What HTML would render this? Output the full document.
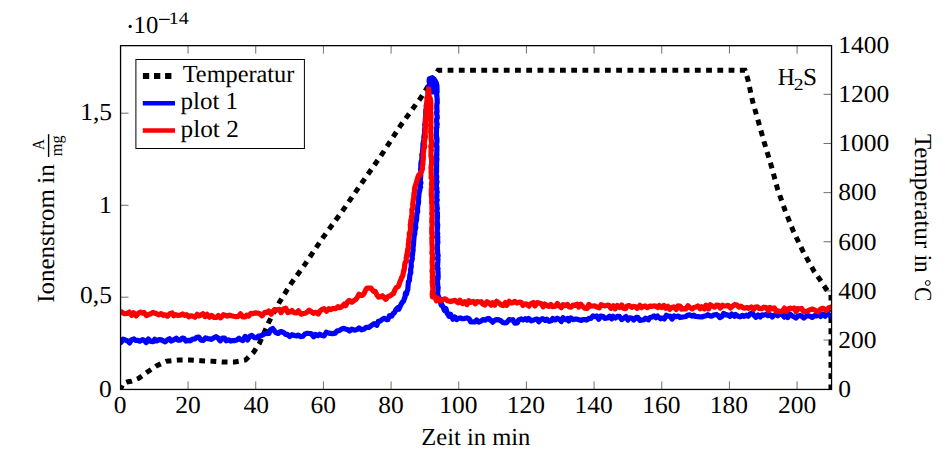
<!DOCTYPE html>
<html><head><meta charset="utf-8"><style>
html,body{margin:0;padding:0;background:#fff;}
svg{display:block;}
text{font-family:"Liberation Serif",serif;fill:#000;}
</style></head><body>
<svg width="952" height="467" viewBox="0 0 952 467" text-rendering="geometricPrecision">
<defs><clipPath id="c"><rect x="120.55" y="45.65" width="711.0" height="343.8"/></clipPath></defs>
<g clip-path="url(#c)" fill="none" stroke-linejoin="round" stroke-linecap="round">
<path d="M120.40,389.50 L123.00,383.50 L127.00,382.00 L131.00,381.30 L138.40,378.50 L147.00,372.30 L156.80,365.70 L166.70,361.20 L178.50,360.00 L190.00,360.00 L201.00,360.70 L212.20,361.20 L223.30,362.00 L234.90,362.00 L245.50,360.00 L253.50,352.40 L259.40,343.40 L268.80,322.20 L279.40,302.20 L291.20,283.40 L304.40,265.10 L323.30,237.10 L343.30,209.70 L362.50,182.00 L382.00,154.20 L400.60,125.40 L420.30,98.50 L438.20,70.30 L745.00,70.30 L748.00,80.00 L752.50,101.00 L758.50,122.00 L764.40,143.00 L771.60,167.00 L777.50,188.80 L785.00,210.20 L793.40,231.30 L803.20,251.80 L814.00,271.10 L820.30,280.20 L826.10,288.90 L831.00,295.00 L831.00,392.00" stroke="#000" stroke-width="5.0" stroke-dasharray="5.8 5.44" stroke-dashoffset="-10.04" stroke-linecap="butt" stroke-linejoin="miter"/>
<path d="M119.12,343.63 L121.19,342.16 L123.07,339.18 L124.94,339.77 L127.56,340.96 L129.59,342.93 L131.37,339.93 L133.94,338.97 L135.49,340.37 L137.69,340.32 L139.91,341.25 L142.35,339.52 L144.49,340.65 L146.18,342.62 L148.37,339.08 L150.34,341.16 L153.13,341.72 L154.81,339.37 L156.57,340.97 L159.15,339.60 L161.33,339.94 L163.68,341.14 L165.18,341.82 L167.10,340.11 L169.52,338.74 L171.31,341.05 L173.37,339.97 L176.29,338.10 L177.74,340.08 L180.11,340.17 L182.48,338.06 L184.13,338.56 L186.00,341.10 L188.75,340.28 L190.17,340.80 L192.92,339.07 L195.01,338.96 L196.66,337.38 L198.76,337.04 L200.96,340.11 L203.37,340.48 L205.49,337.88 L207.45,338.57 L209.75,338.90 L211.39,339.44 L214.11,337.59 L216.13,336.73 L217.69,337.72 L220.21,340.86 L222.32,338.16 L224.53,338.19 L226.07,340.75 L228.52,339.83 L230.65,341.11 L232.57,340.51 L234.87,340.61 L236.74,340.05 L238.96,338.23 L240.75,339.64 L242.89,340.58 L245.20,336.36 L247.43,340.00 L249.89,336.21 L251.87,335.44 L254.71,337.72 L256.97,337.84 L258.39,336.00 L260.63,335.80 L263.01,334.92 L264.32,333.62 L268.96,333.46 L270.45,329.71 L272.66,328.45 L275.81,332.62 L278.12,333.43 L280.08,331.76 L281.57,331.63 L284.11,332.80 L285.68,334.46 L287.38,334.43 L289.75,336.44 L291.97,334.68 L294.64,335.47 L296.68,335.96 L298.10,335.05 L300.60,336.62 L302.67,336.30 L304.98,334.00 L307.42,333.30 L309.53,333.50 L310.96,333.49 L313.78,336.75 L315.26,334.46 L317.84,335.66 L319.72,334.18 L322.02,335.51 L324.09,335.85 L326.25,332.24 L328.75,333.09 L330.37,333.30 L332.48,333.57 L335.16,333.16 L337.24,330.86 L339.18,330.64 L341.74,328.88 L343.79,328.29 L345.24,329.01 L347.90,329.73 L349.49,331.09 L351.79,329.05 L354.48,330.17 L357.10,329.52 L359.17,327.94 L361.40,329.81 L364.24,328.96 L366.21,327.23 L369.14,327.45 L370.51,326.09 L373.12,324.27 L374.45,323.71 L376.84,325.25 L378.30,321.39 L380.30,321.06 L382.46,319.25 L384.21,318.29 L386.70,319.59 L387.85,319.53 L389.45,315.71 L391.83,316.23 L393.21,313.36 L394.33,312.97 L395.85,309.79 L397.70,307.75 L398.87,309.14 L400.29,305.92 L401.40,303.82 L402.12,302.50 L403.52,301.16 L404.61,297.88 L404.97,297.36 L405.48,293.16 L406.40,294.11 L407.09,291.40 L407.81,289.39 L408.04,286.18 L408.16,284.74 L408.39,281.60 L409.41,280.68 L409.69,276.43 L409.92,275.12 L410.51,272.70 L410.78,272.89 L410.58,269.58 L411.33,266.31 L411.30,266.79 L411.13,262.79 L411.47,261.74 L412.38,258.48 L411.87,256.63 L412.48,255.16 L412.68,252.71 L413.19,250.10 L413.05,249.90 L413.11,246.68 L413.51,244.96 L413.50,243.86 L413.94,237.72 L414.10,237.16 L414.11,235.18 L414.70,234.34 L414.87,230.37 L414.99,230.40 L415.85,227.39 L415.45,226.53 L415.84,221.87 L415.84,222.28 L416.67,219.59 L416.61,217.21 L416.63,216.91 L416.97,213.41 L417.62,212.11 L417.56,207.74 L417.87,204.92 L418.37,203.85 L418.62,201.38 L418.45,199.24 L418.73,196.87 L418.61,197.15 L419.09,192.97 L419.35,191.92 L419.71,190.54 L420.15,187.25 L420.63,187.34 L420.11,185.14 L420.92,182.80 L420.31,180.85 L420.81,175.10 L420.32,177.07 L420.96,171.83 L420.53,169.20 L420.71,169.83 L420.87,164.94 L421.43,165.59 L420.84,163.88 L421.30,161.24 L421.63,159.73 L422.01,157.49 L421.77,154.85 L422.35,153.06 L422.55,151.68 L422.93,146.96 L422.93,144.41 L423.43,142.06 L423.69,140.44 L423.99,139.99 L424.17,139.60 L423.83,137.50 L424.37,134.28 L424.68,133.50 L424.56,129.64 L425.21,126.13 L425.05,126.60 L424.65,124.48 L425.36,123.90 L425.18,122.12 L425.48,117.93 L425.95,113.95 L425.93,114.55 L425.72,113.59 L425.88,109.89 L426.27,109.19 L426.25,105.71 L426.68,104.24 L427.29,101.09 L427.54,99.58 L427.50,97.00 L427.76,98.09 L428.14,95.28 L428.10,91.20 L428.32,90.38 L428.88,89.25 L428.62,86.98 L429.62,84.20 L429.14,81.12 L429.37,78.64 L432.37,77.78 L435.14,80.77 L436.26,82.74 L436.90,85.56 L437.00,87.57 L437.02,88.02 L437.03,91.24 L437.15,91.82 L436.66,93.68 L437.21,99.68 L437.14,99.42 L437.27,103.28 L437.03,102.97 L436.80,105.70 L436.80,107.76 L437.07,111.99 L436.55,112.39 L436.52,112.43 L437.19,116.45 L437.28,117.90 L436.47,119.66 L436.97,124.10 L437.30,124.08 L436.79,124.45 L436.98,126.95 L436.54,128.10 L436.40,133.05 L436.49,136.31 L436.45,137.90 L436.48,136.17 L436.99,139.17 L436.99,140.95 L436.38,145.54 L436.95,147.92 L436.96,146.54 L436.86,151.31 L436.70,154.30 L436.51,156.46 L436.90,154.28 L436.28,159.11 L436.97,158.61 L436.52,163.49 L436.38,166.08 L436.65,164.57 L436.53,168.85 L436.59,171.32 L436.32,173.86 L436.50,175.21 L436.72,176.22 L436.50,179.86 L437.02,181.89 L436.72,181.77 L436.31,186.81 L436.90,188.20 L436.61,189.27 L437.21,192.30 L436.91,192.04 L436.79,196.63 L436.77,197.77 L437.00,200.74 L437.22,200.09 L436.54,202.04 L436.94,205.50 L437.32,208.86 L436.67,210.67 L437.38,212.86 L437.20,212.28 L437.47,216.67 L437.36,219.18 L437.09,217.57 L437.31,222.75 L437.03,224.58 L437.70,224.35 L437.45,228.34 L437.36,228.31 L437.20,232.74 L437.71,233.50 L437.12,237.07 L437.75,236.58 L437.61,241.55 L437.91,241.94 L437.59,244.27 L437.36,244.57 L437.39,248.84 L437.58,250.28 L437.62,252.13 L437.40,252.11 L438.15,255.62 L437.37,258.81 L437.98,258.77 L437.81,261.66 L437.75,262.29 L437.33,268.61 L438.07,268.45 L437.81,269.52 L438.00,272.30 L438.15,275.86 L438.04,278.78 L437.55,276.77 L437.51,279.45 L437.41,280.94 L437.83,286.60 L437.75,289.00 L438.15,287.17 L437.88,290.69 L437.47,295.22 L438.17,295.42 L439.09,299.07 L439.70,298.53 L440.09,299.44 L441.13,305.03 L441.06,302.77 L442.51,306.07 L444.50,310.43 L445.87,308.58 L447.25,313.42 L449.06,316.24 L450.48,314.14 L453.02,319.23 L454.90,316.99 L456.76,319.59 L458.27,318.27 L460.35,317.97 L462.48,318.74 L464.39,318.58 L466.91,317.96 L469.07,318.71 L470.59,321.88 L472.75,321.96 L475.32,321.81 L476.68,319.91 L478.65,322.08 L481.30,320.80 L482.96,319.58 L485.28,320.23 L487.11,318.81 L488.76,318.48 L491.19,320.71 L492.69,322.15 L494.79,320.18 L496.70,319.61 L499.30,319.94 L500.71,320.67 L502.84,322.54 L504.66,322.92 L506.61,322.60 L509.15,319.63 L510.98,320.01 L512.79,319.69 L514.88,323.13 L517.44,322.80 L518.65,319.97 L521.35,318.92 L523.20,319.92 L525.42,318.67 L527.27,320.07 L528.68,318.54 L531.29,320.82 L532.72,320.38 L535.36,319.39 L537.06,319.01 L538.72,321.76 L541.19,319.20 L542.63,318.68 L545.10,320.45 L546.80,319.14 L549.10,321.31 L551.27,320.73 L552.74,318.42 L555.20,319.90 L557.20,318.22 L559.27,319.34 L561.30,321.55 L562.99,317.69 L565.36,319.60 L567.33,318.56 L568.72,320.93 L570.88,317.87 L572.89,319.65 L574.56,319.20 L576.95,319.06 L578.67,319.82 L581.28,320.36 L582.84,319.56 L584.90,319.62 L586.61,320.04 L589.40,318.25 L591.01,318.29 L593.03,315.93 L595.41,316.70 L596.72,316.05 L598.83,319.21 L600.68,316.06 L603.32,316.52 L604.77,318.31 L607.31,318.00 L609.46,316.17 L611.66,318.89 L612.98,316.29 L615.42,317.97 L617.28,316.33 L619.44,316.41 L621.65,319.62 L623.31,318.37 L625.88,316.59 L628.00,320.01 L629.66,317.75 L632.11,318.24 L633.77,320.08 L636.15,317.45 L637.72,317.46 L639.94,320.32 L642.27,319.95 L644.28,319.60 L645.61,318.08 L648.40,319.84 L649.78,317.52 L652.12,317.20 L654.03,315.84 L655.94,317.69 L657.58,316.01 L660.41,318.75 L662.38,318.05 L664.27,319.09 L666.34,315.28 L668.12,316.24 L670.16,316.20 L672.04,319.00 L674.11,315.97 L676.02,316.71 L678.40,316.00 L679.83,317.52 L681.67,317.21 L684.40,316.79 L685.80,316.51 L688.03,315.04 L689.67,314.89 L691.82,316.03 L693.81,315.24 L695.64,316.50 L698.30,316.71 L700.06,316.82 L701.74,317.01 L703.97,316.23 L706.10,315.81 L707.83,314.74 L709.75,315.85 L711.90,316.11 L713.57,315.01 L716.32,314.44 L718.05,315.48 L719.81,317.59 L721.82,316.57 L723.70,313.39 L726.33,315.04 L727.61,314.81 L729.95,316.34 L731.66,314.09 L734.40,316.35 L735.70,314.58 L737.87,316.07 L740.10,316.84 L742.28,315.38 L744.21,316.37 L746.23,315.19 L748.25,316.22 L750.36,313.66 L752.33,313.12 L754.23,315.68 L756.00,317.34 L758.06,314.94 L760.25,316.94 L762.09,314.77 L763.96,315.11 L766.20,314.39 L767.90,315.58 L769.90,314.59 L772.25,316.95 L774.00,315.21 L775.72,314.63 L777.69,315.86 L780.07,313.75 L782.37,314.83 L784.30,317.13 L786.40,314.38 L787.94,317.53 L789.57,313.77 L792.06,315.78 L794.37,317.04 L796.03,318.06 L798.02,315.99 L800.16,315.46 L801.87,316.40 L803.87,317.99 L806.16,316.17 L807.65,315.55 L810.00,316.19 L812.23,317.42 L814.66,315.52 L816.28,315.95 L818.85,314.54 L820.53,316.44 L822.29,314.07 L825.09,316.13 L826.76,312.81 L829.18,315.19 L831.20,316.33 L833.34,313.65" stroke="#0000ff" stroke-width="5.2"/>
<path d="M429.5,88 L431.5,79 L434.5,80.5 L436,90 L433,92 Z" fill="#0000ff" stroke="#0000ff" stroke-width="5"/>
<path d="M118.84,312.06 L121.25,311.76 L123.26,313.10 L124.96,313.77 L127.05,313.49 L129.20,312.03 L131.63,315.32 L133.48,312.71 L136.04,315.94 L138.11,313.56 L140.57,312.07 L142.58,313.18 L144.07,312.47 L146.33,315.59 L148.32,314.59 L150.82,313.71 L152.84,312.38 L154.51,313.04 L157.16,314.05 L158.94,314.78 L161.16,313.55 L163.56,315.34 L165.17,314.83 L167.52,316.18 L169.80,313.63 L172.12,312.92 L173.73,315.76 L175.59,314.62 L177.59,315.44 L180.33,315.07 L182.53,313.99 L184.47,315.28 L186.47,314.72 L188.80,316.92 L190.58,315.74 L192.31,315.96 L194.93,317.30 L197.18,314.23 L198.90,315.98 L200.68,315.12 L202.91,313.66 L204.91,316.57 L207.07,314.34 L209.40,317.13 L211.39,315.39 L214.06,317.42 L216.55,317.44 L218.33,315.58 L220.66,317.76 L223.45,314.65 L225.02,315.12 L227.22,316.16 L229.69,315.11 L231.33,315.73 L233.80,316.30 L236.47,316.77 L238.24,316.38 L240.54,313.83 L242.89,316.95 L245.02,316.96 L246.75,315.13 L248.65,316.09 L250.86,313.37 L253.23,313.56 L255.59,312.85 L257.53,313.05 L259.86,313.76 L262.04,315.78 L264.80,312.35 L266.53,312.60 L268.68,310.99 L271.16,314.19 L272.87,311.33 L274.67,309.47 L277.03,310.00 L279.59,309.36 L281.01,312.65 L283.59,308.93 L285.74,308.22 L287.87,312.69 L290.32,311.73 L291.94,310.56 L294.01,312.63 L296.48,312.94 L298.45,310.78 L301.01,314.20 L303.19,313.47 L305.29,313.24 L306.91,312.33 L309.16,310.24 L311.01,311.40 L313.35,313.28 L316.10,312.27 L318.22,314.03 L320.37,310.67 L321.85,309.45 L323.97,308.73 L326.48,311.18 L328.80,308.71 L330.93,309.62 L332.73,308.51 L335.76,308.54 L337.92,306.70 L339.72,307.57 L341.77,306.76 L344.26,304.12 L345.67,305.69 L347.88,301.41 L349.27,300.47 L351.90,302.21 L353.17,301.16 L355.84,299.27 L357.23,297.65 L358.98,294.16 L361.31,295.51 L362.52,295.31 L364.04,293.59 L365.99,289.23 L367.08,288.14 L368.67,287.98 L371.09,288.19 L373.38,291.30 L375.20,291.25 L377.04,295.15 L378.53,297.14 L380.50,296.74 L382.42,295.78 L384.25,297.81 L385.79,299.29 L387.86,296.63 L390.27,295.77 L391.85,294.38 L393.50,293.63 L394.55,290.72 L396.13,287.54 L398.04,286.63 L398.63,285.82 L399.72,282.51 L400.24,280.86 L400.93,279.77 L401.66,277.15 L402.22,277.01 L402.96,274.80 L403.72,270.16 L403.92,271.24 L404.71,265.76 L404.62,265.17 L405.12,262.36 L405.46,262.19 L406.42,261.14 L406.20,258.28 L406.97,253.71 L407.50,255.28 L407.25,253.16 L407.74,249.06 L408.60,248.52 L408.20,244.70 L408.75,242.15 L408.70,239.91 L409.40,236.45 L409.49,236.16 L409.26,233.53 L410.03,232.18 L409.77,232.12 L410.64,229.91 L410.28,224.66 L410.46,224.77 L410.90,219.77 L411.25,221.21 L411.81,216.34 L411.44,217.24 L412.03,214.28 L411.82,209.45 L412.57,209.07 L412.24,209.33 L412.95,206.73 L412.68,204.97 L412.89,203.00 L413.44,198.69 L413.75,199.28 L413.88,193.54 L414.49,191.78 L414.51,189.21 L414.84,187.15 L415.45,185.38 L416.23,183.08 L417.00,180.25 L417.87,177.21 L418.78,174.87 L420.21,175.22 L420.73,172.89 L422.38,169.27 L422.48,168.50 L422.40,168.07 L422.51,164.43 L422.97,164.32 L422.86,161.46 L423.38,158.60 L423.32,155.33 L423.21,152.37 L423.42,153.06 L423.78,148.52 L423.78,149.50 L424.63,146.75 L424.26,142.87 L424.42,141.82 L424.45,139.76 L424.69,140.03 L425.47,136.21 L424.98,136.05 L425.18,131.37 L425.06,129.48 L425.58,128.01 L425.44,126.02 L425.36,122.96 L425.54,121.56 L425.60,117.90 L425.93,116.82 L426.28,116.13 L426.52,114.69 L426.59,113.67 L426.40,109.23 L427.03,106.46 L426.90,106.63 L426.40,105.48 L427.24,102.56 L427.21,101.37 L426.94,97.80 L427.52,96.87 L428.05,94.54 L428.11,92.53 L428.46,89.35 L428.52,88.74 L428.90,92.49 L429.33,96.88 L430.19,98.26 L430.71,100.79 L430.61,99.83 L430.91,105.12 L430.67,106.20 L430.83,106.15 L430.92,108.99 L430.36,111.06 L430.96,112.81 L431.00,118.22 L430.80,117.62 L430.81,120.96 L431.09,122.68 L431.00,122.33 L430.59,125.12 L431.14,127.35 L431.01,128.09 L430.58,131.23 L431.14,135.11 L431.17,135.36 L431.05,138.14 L431.03,138.63 L431.43,141.00 L431.53,146.26 L430.71,146.17 L431.44,150.43 L431.13,149.37 L430.94,154.36 L430.97,154.77 L430.93,156.54 L431.67,156.83 L431.57,160.50 L431.66,163.37 L431.10,166.24 L431.35,164.42 L430.95,168.49 L431.36,169.67 L431.11,171.87 L431.29,176.07 L431.04,177.69 L431.80,176.93 L431.90,181.58 L431.89,181.76 L431.45,184.25 L432.02,187.15 L431.48,188.48 L431.42,188.85 L431.29,194.35 L431.47,196.84 L431.46,195.93 L431.71,197.64 L431.61,203.05 L432.08,204.45 L431.88,206.94 L432.17,207.38 L431.99,207.22 L432.02,211.02 L432.06,213.92 L431.67,213.34 L432.26,215.72 L431.88,218.71 L431.74,222.49 L432.36,222.42 L432.10,224.64 L432.03,227.10 L431.71,228.11 L431.76,233.43 L432.04,232.45 L432.42,237.90 L432.04,236.17 L431.83,238.00 L431.98,240.04 L431.91,242.82 L432.22,247.62 L432.40,247.58 L432.12,250.11 L432.11,251.33 L431.85,253.11 L432.67,254.49 L432.28,258.75 L432.61,258.98 L432.11,261.17 L432.24,264.08 L432.74,267.90 L432.69,266.31 L431.97,271.38 L432.75,272.38 L432.49,272.35 L432.34,278.47 L432.74,280.20 L432.89,279.58 L432.15,281.21 L432.53,285.57 L432.92,287.79 L432.68,290.03 L432.53,291.14 L432.18,294.20 L432.36,296.85 L433.99,295.80 L434.81,297.24 L436.52,300.87 L438.23,298.33 L440.77,300.81 L442.83,299.46 L445.19,298.75 L447.49,300.73 L450.64,301.54 L453.14,300.79 L454.99,300.26 L458.06,302.75 L459.91,300.22 L462.50,303.57 L464.55,301.71 L466.90,304.62 L468.63,300.68 L470.86,302.35 L473.16,301.41 L475.26,303.83 L477.00,301.52 L479.41,302.02 L481.28,301.71 L482.75,304.07 L484.82,304.96 L487.00,301.63 L488.76,302.68 L491.15,305.06 L492.69,302.65 L494.75,305.24 L496.68,301.22 L498.61,302.76 L501.35,304.96 L503.20,305.50 L505.38,302.60 L506.72,305.30 L509.22,301.36 L511.14,302.93 L512.89,302.76 L514.71,301.41 L516.81,303.05 L519.40,302.14 L521.41,302.61 L522.87,305.41 L525.28,303.80 L526.60,304.08 L528.89,306.15 L530.73,303.80 L533.35,302.43 L534.92,305.97 L537.23,302.68 L538.59,302.88 L541.37,303.83 L543.22,306.75 L544.86,304.10 L547.40,305.71 L548.79,306.25 L550.84,304.41 L552.56,306.62 L555.37,306.19 L557.39,303.54 L558.77,305.56 L561.40,307.70 L562.90,304.64 L564.94,305.74 L567.38,304.40 L569.27,306.88 L571.28,307.07 L573.09,305.14 L574.84,305.33 L577.25,304.11 L578.73,307.11 L580.78,304.12 L582.59,306.30 L584.85,308.21 L587.34,308.28 L588.79,304.34 L590.64,306.19 L593.18,306.00 L594.77,305.90 L597.11,307.07 L599.24,307.87 L601.19,304.71 L603.37,305.51 L605.15,305.89 L607.32,305.17 L608.92,305.41 L610.86,308.26 L613.25,305.84 L615.12,308.81 L617.24,305.50 L619.53,307.40 L621.71,305.01 L623.28,308.20 L625.62,308.66 L626.94,305.97 L629.03,305.55 L631.81,307.32 L633.79,306.43 L635.76,306.81 L637.25,308.29 L639.88,305.37 L641.59,307.67 L643.28,306.61 L645.24,305.92 L647.36,307.70 L649.73,306.00 L651.20,306.54 L653.81,305.91 L655.51,305.99 L657.96,307.51 L659.34,305.55 L661.66,307.52 L663.90,305.50 L665.50,308.16 L667.75,306.35 L669.68,309.29 L671.71,307.59 L673.77,306.93 L676.25,309.49 L677.83,305.97 L680.18,306.00 L681.57,309.07 L683.95,308.67 L685.95,308.90 L688.01,305.70 L689.64,307.37 L692.20,308.90 L693.73,307.60 L696.00,307.04 L697.82,306.03 L700.16,308.81 L701.82,306.86 L704.44,308.91 L705.93,305.18 L708.60,308.87 L710.21,304.77 L712.62,306.21 L714.61,307.19 L716.56,305.13 L718.54,305.36 L720.22,308.06 L722.61,305.11 L724.09,306.02 L726.37,305.91 L728.04,305.27 L730.58,308.09 L732.00,306.57 L734.73,304.46 L736.90,305.01 L738.79,307.10 L740.91,306.22 L742.83,307.63 L744.93,308.16 L747.05,307.39 L748.78,308.37 L751.29,306.88 L753.63,309.47 L755.46,307.02 L757.58,306.90 L759.37,308.51 L761.44,308.76 L763.91,307.19 L766.12,307.56 L768.21,310.64 L770.01,307.48 L772.00,308.92 L774.40,307.88 L776.31,311.68 L778.20,310.90 L779.73,311.65 L781.99,311.56 L784.37,308.10 L786.25,311.49 L787.62,308.95 L790.23,308.13 L792.35,308.66 L794.28,308.10 L796.00,311.53 L797.74,308.66 L800.01,308.93 L801.59,308.34 L803.70,311.68 L806.16,311.52 L807.71,311.05 L809.74,309.87 L812.29,309.05 L814.58,309.84 L816.40,311.22 L818.07,311.64 L820.61,308.93 L822.85,308.30 L825.10,309.61 L826.63,310.36 L828.78,307.71 L831.13,307.08 L833.28,307.92" stroke="#ff0000" stroke-width="5.2"/>
</g>
<path d="M188.07,389.45 V381.45 M188.07,45.65 V53.65 M255.74,389.45 V381.45 M255.74,45.65 V53.65 M323.41,389.45 V381.45 M323.41,45.65 V53.65 M391.08,389.45 V381.45 M391.08,45.65 V53.65 M458.75,389.45 V381.45 M458.75,45.65 V53.65 M526.42,389.45 V381.45 M526.42,45.65 V53.65 M594.09,389.45 V381.45 M594.09,45.65 V53.65 M661.76,389.45 V381.45 M661.76,45.65 V53.65 M729.43,389.45 V381.45 M729.43,45.65 V53.65 M797.10,389.45 V381.45 M797.10,45.65 V53.65 M120.55,297.20 H128.55 M120.55,205.30 H128.55 M120.55,113.20 H128.55 M831.55,340.06 H823.55 M831.55,290.91 H823.55 M831.55,241.77 H823.55 M831.55,192.63 H823.55 M831.55,143.49 H823.55 M831.55,94.34 H823.55" stroke="#222" stroke-width="0.65" fill="none"/>
<rect x="120.55" y="45.65" width="711.0" height="343.8" fill="none" stroke="#000" stroke-width="1.3"/>
<text x="113.84" y="412.70" font-size="24.5" textLength="12.74" lengthAdjust="spacingAndGlyphs">0</text>
<text x="175.27" y="412.70" font-size="24.5" textLength="25.48" lengthAdjust="spacingAndGlyphs">20</text>
<text x="243.46" y="412.70" font-size="24.5" textLength="25.48" lengthAdjust="spacingAndGlyphs">40</text>
<text x="310.61" y="412.70" font-size="24.5" textLength="25.48" lengthAdjust="spacingAndGlyphs">60</text>
<text x="378.28" y="412.70" font-size="24.5" textLength="25.48" lengthAdjust="spacingAndGlyphs">80</text>
<text x="439.19" y="412.70" font-size="24.5" textLength="38.22" lengthAdjust="spacingAndGlyphs">100</text>
<text x="506.86" y="412.70" font-size="24.5" textLength="38.22" lengthAdjust="spacingAndGlyphs">120</text>
<text x="574.53" y="412.70" font-size="24.5" textLength="38.22" lengthAdjust="spacingAndGlyphs">140</text>
<text x="642.20" y="412.70" font-size="24.5" textLength="38.22" lengthAdjust="spacingAndGlyphs">160</text>
<text x="709.87" y="412.70" font-size="24.5" textLength="38.22" lengthAdjust="spacingAndGlyphs">180</text>
<text x="778.06" y="412.70" font-size="24.5" textLength="38.22" lengthAdjust="spacingAndGlyphs">200</text>
<text x="99.12" y="397.00" font-size="24.5" textLength="12.74" lengthAdjust="spacingAndGlyphs">0</text>
<text x="80.10" y="302.80" font-size="24.5" textLength="31.85" lengthAdjust="spacingAndGlyphs">0,5</text>
<text x="98.96" y="212.80" font-size="24.5" textLength="12.74" lengthAdjust="spacingAndGlyphs">1</text>
<text x="80.20" y="119.80" font-size="24.5" textLength="31.85" lengthAdjust="spacingAndGlyphs">1,5</text>
<text x="838.20" y="397.00" font-size="24.5" textLength="12.74" lengthAdjust="spacingAndGlyphs">0</text>
<text x="838.20" y="347.86" font-size="24.5" textLength="38.22" lengthAdjust="spacingAndGlyphs">200</text>
<text x="838.20" y="298.71" font-size="24.5" textLength="38.22" lengthAdjust="spacingAndGlyphs">400</text>
<text x="838.20" y="249.57" font-size="24.5" textLength="38.22" lengthAdjust="spacingAndGlyphs">600</text>
<text x="838.20" y="200.43" font-size="24.5" textLength="38.22" lengthAdjust="spacingAndGlyphs">800</text>
<text x="838.20" y="151.29" font-size="24.5" textLength="50.96" lengthAdjust="spacingAndGlyphs">1000</text>
<text x="838.20" y="102.14" font-size="24.5" textLength="50.96" lengthAdjust="spacingAndGlyphs">1200</text>
<text x="838.20" y="53.00" font-size="24.5" textLength="50.96" lengthAdjust="spacingAndGlyphs">1400</text>
<text x="421.30" y="444.80" font-size="24.5" textLength="109.08" lengthAdjust="spacingAndGlyphs">Zeit in min</text>
<g transform="translate(54.2,301.8) rotate(-90)"><text x="-1.02" y="0.00" font-size="24.5" textLength="113.83" lengthAdjust="spacingAndGlyphs">Ionenstrom</text><text x="118.08" y="0.00" font-size="24.5" textLength="19.49" lengthAdjust="spacingAndGlyphs">in</text>
<g><text x="151.70" y="-10.00" font-size="17" textLength="10.85" lengthAdjust="spacingAndGlyphs">A</text><rect x="144.8" y="-6.3" width="22.8" height="1.4"/><text x="145.64" y="7.90" font-size="17" textLength="20.80" lengthAdjust="spacingAndGlyphs">mg</text></g></g>
<g transform="translate(914.9,133.9) rotate(90)"><text x="0.00" y="0.00" font-size="24.5" textLength="114.36" lengthAdjust="spacingAndGlyphs">Temperatur</text><text x="120.75" y="0.00" font-size="24.5" textLength="18.11" lengthAdjust="spacingAndGlyphs">in</text><circle cx="149.1" cy="-12.9" r="2.4" fill="none" stroke="#000" stroke-width="1"/><text x="153.24" y="0.00" font-size="24.5" textLength="14.01" lengthAdjust="spacingAndGlyphs">C</text></g>
<circle cx="130.2" cy="26.4" r="1.6"/>
<text x="133.58" y="32.80" font-size="24.5" textLength="24.72" lengthAdjust="spacingAndGlyphs">10</text><rect x="159.1" y="18.8" width="10.7" height="1.2"/><text x="168.82" y="24.00" font-size="17.5" textLength="19.95" lengthAdjust="spacingAndGlyphs">14</text>
<text x="777.64" y="85.00" font-size="24.5" textLength="17.04" lengthAdjust="spacingAndGlyphs">H</text><text x="793.74" y="89.70" font-size="17" textLength="9.84" lengthAdjust="spacingAndGlyphs">2</text><text x="803.04" y="85.00" font-size="24.5" textLength="14.05" lengthAdjust="spacingAndGlyphs">S</text>
<rect x="135.9" y="59.5" width="168.5" height="89" fill="#fff" stroke="#000" stroke-width="1"/>
<path d="M142.9,75.9 H172" stroke="#000" stroke-width="6" stroke-dasharray="6.3 4.8"/>
<path d="M142.8,103.2 H175" stroke="#0000ff" stroke-width="4.6"/>
<path d="M142.8,130.5 H175" stroke="#ff0000" stroke-width="4.6"/>
<text x="182.70" y="81.90" font-size="24.5" textLength="111.67" lengthAdjust="spacingAndGlyphs">Temperatur</text>
<text x="180.48" y="109.40" font-size="24.5" textLength="57.65" lengthAdjust="spacingAndGlyphs">plot 1</text>
<text x="180.47" y="136.60" font-size="24.5" textLength="58.38" lengthAdjust="spacingAndGlyphs">plot 2</text>
</svg>
</body></html>
